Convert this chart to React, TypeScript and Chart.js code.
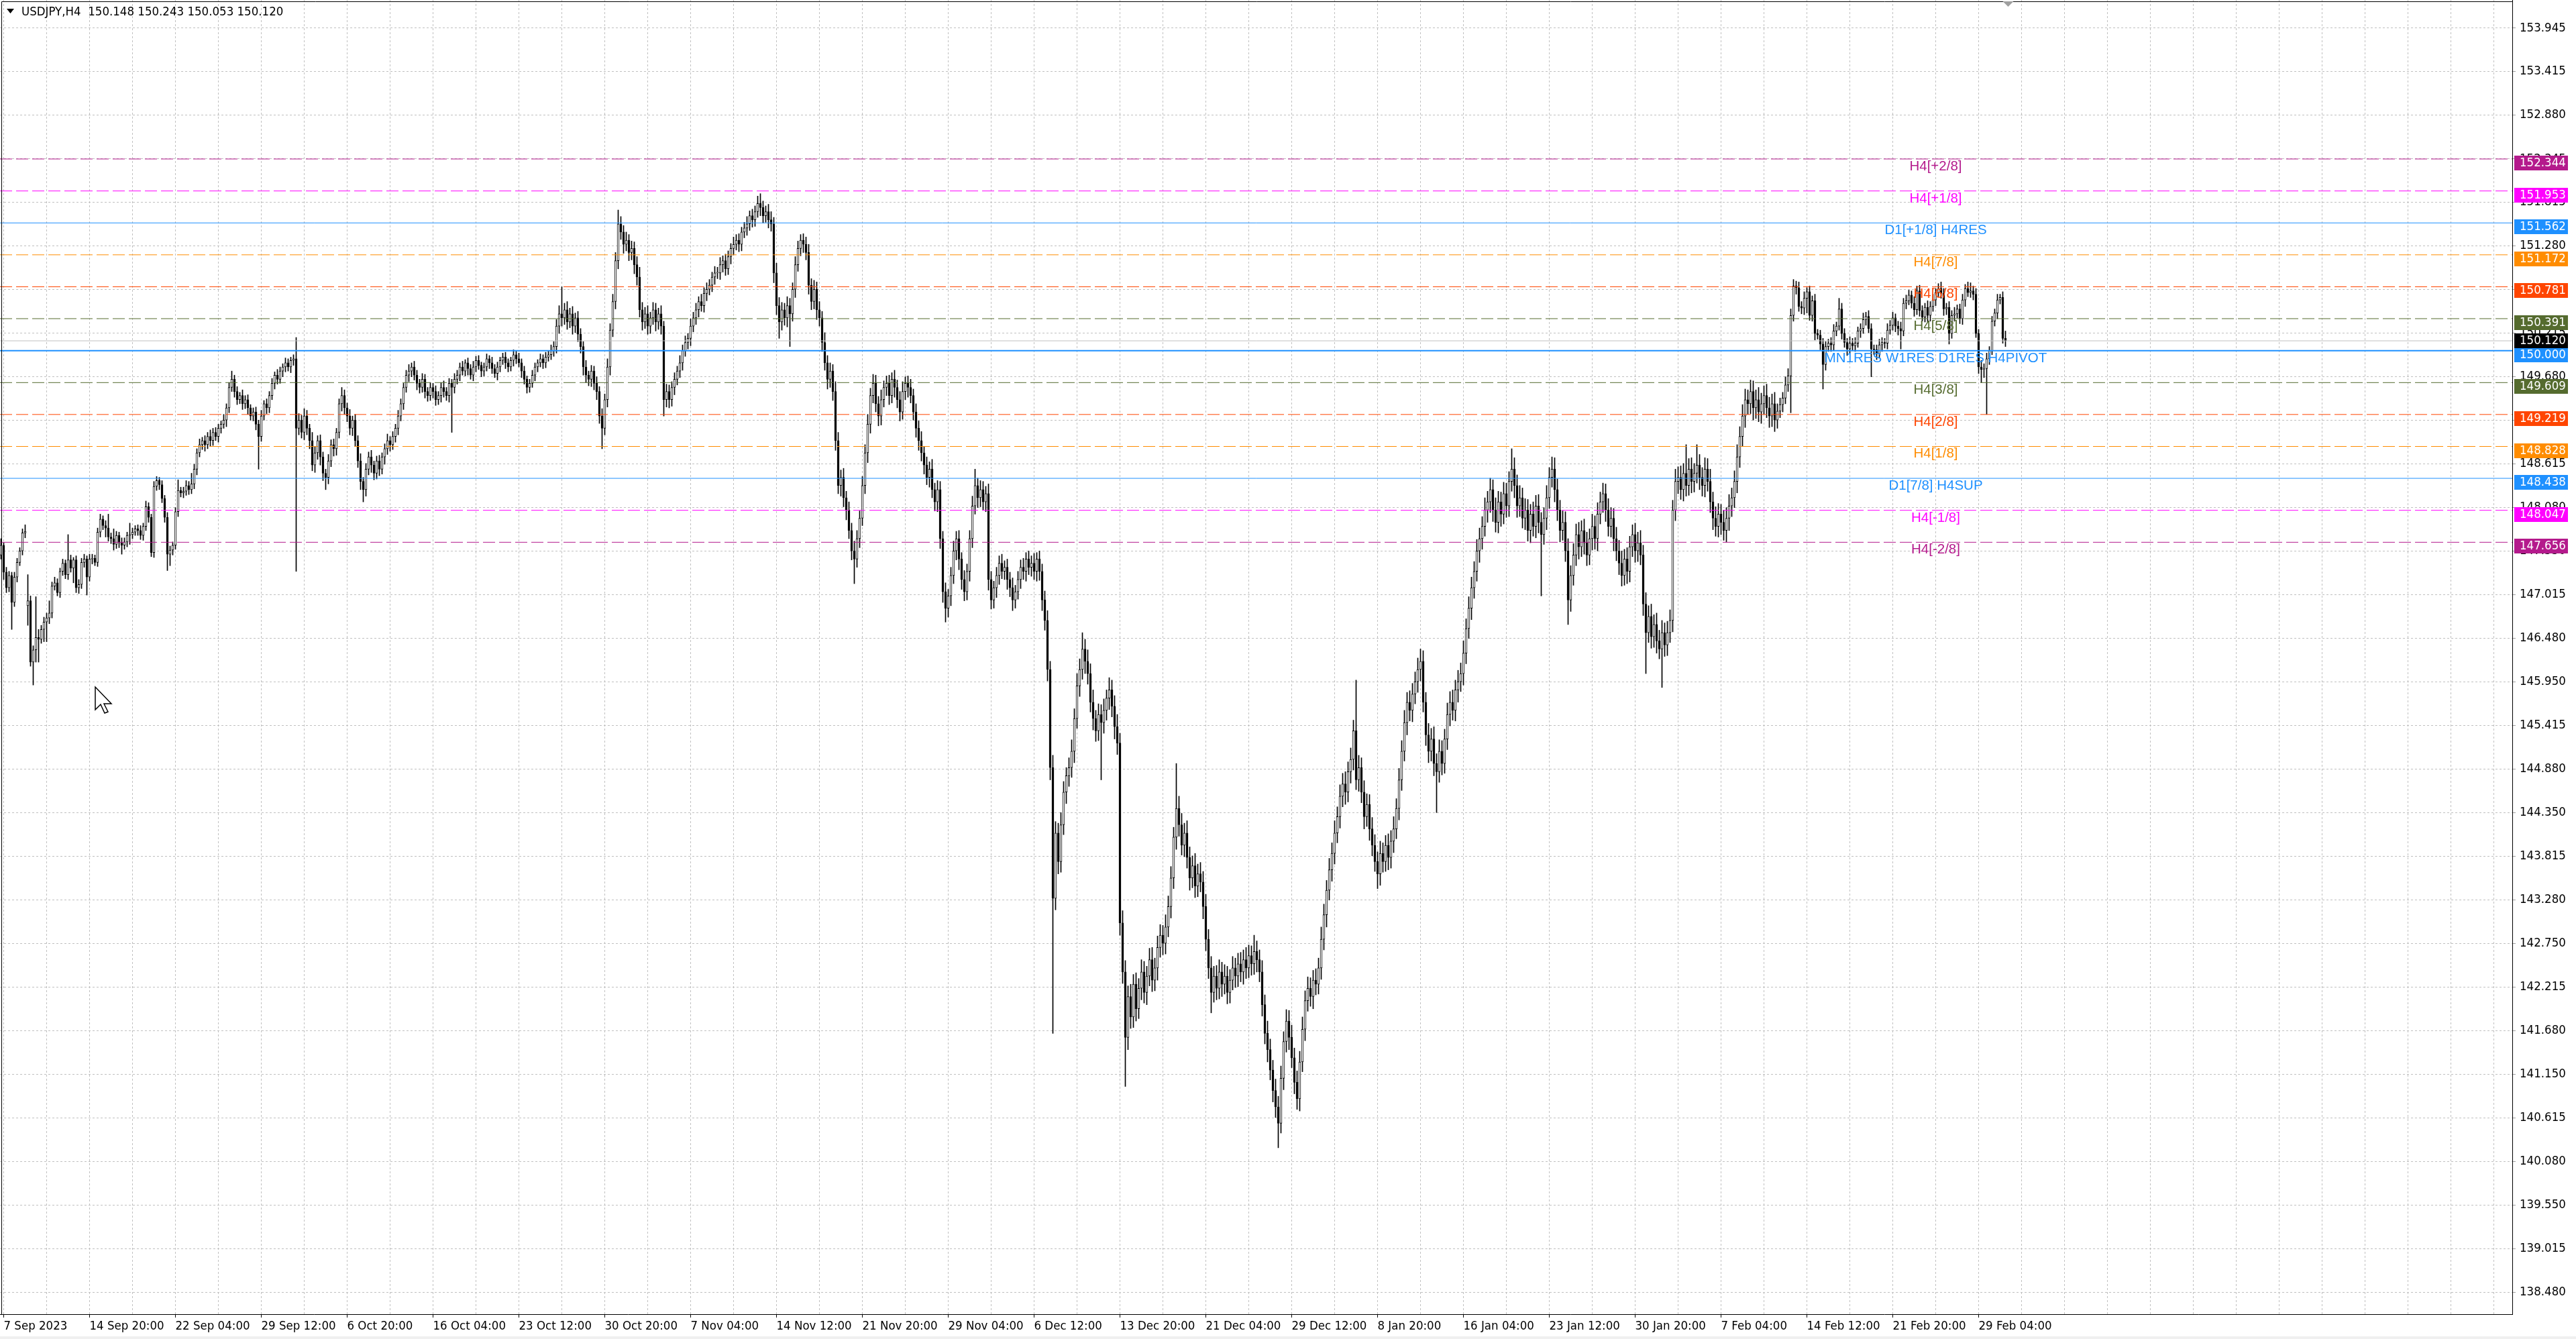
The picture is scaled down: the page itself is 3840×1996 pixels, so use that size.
import { useEffect, useRef } from 'react';
import { Chart, registerables } from 'chart.js';

Chart.register(...registerables);

const CANVAS_W = 3840;
const CANVAS_H = 1996;

const symbolTitle = 'USDJPY,H4  150.148 150.243 150.053 150.120';

// H4 closes, one per bar (7 Sep 2023 08:00 ... 1 Mar 2024 12:00)
const closes = [
  147.62, 147.29, 147.10, 147.25, 146.92, 147.23, 147.41, 147.55, 147.77, 147.79,
  146.94, 146.19, 146.34, 146.49, 146.47, 146.59, 146.68, 146.73, 146.79, 147.12,
  147.16, 147.04, 147.30, 147.40, 147.26, 147.44, 147.34, 147.44, 147.10, 147.14,
  147.41, 147.45, 147.23, 147.45, 147.46, 147.41, 147.78, 147.94, 147.86, 147.83,
  147.72, 147.70, 147.63, 147.74, 147.65, 147.62, 147.66, 147.74, 147.75, 147.78,
  147.82, 147.80, 147.74, 147.85, 148.09, 147.96, 147.53, 148.34, 148.41, 148.36,
  148.19, 147.96, 147.51, 147.56, 147.62, 148.03, 148.29, 148.26, 148.28, 148.35,
  148.30, 148.37, 148.55, 148.75, 148.85, 148.90, 148.85, 148.95, 148.90, 149.00,
  148.95, 149.05, 149.10, 149.15, 149.30, 149.55, 149.65, 149.50, 149.40, 149.45,
  149.35, 149.40, 149.30, 149.20, 149.25, 149.10, 148.95, 149.20, 149.35, 149.30,
  149.45, 149.60, 149.70, 149.65, 149.75, 149.80, 149.85, 149.80, 149.88, 149.90,
  149.05, 149.15, 149.00, 149.20, 149.05, 148.90, 148.60, 148.75, 148.90, 148.70,
  148.50, 148.45, 148.65, 148.85, 148.80, 149.00, 149.35, 149.45, 149.30, 149.20,
  149.05, 149.15, 148.90, 148.65, 148.40, 148.30, 148.55, 148.70, 148.60, 148.50,
  148.65, 148.55, 148.70, 148.80, 148.90, 148.85, 148.95, 149.05, 149.20, 149.35,
  149.55, 149.70, 149.75, 149.80, 149.70, 149.60, 149.55, 149.65, 149.50, 149.45,
  149.55, 149.50, 149.40, 149.45, 149.55, 149.50, 149.45, 149.60, 149.55, 149.65,
  149.70, 149.80, 149.75, 149.85, 149.78, 149.70, 149.80, 149.88, 149.82, 149.75,
  149.80, 149.90, 149.85, 149.78, 149.72, 149.80, 149.88, 149.92, 149.85, 149.80,
  149.88, 149.95, 149.90, 149.85, 149.75, 149.65, 149.55, 149.60, 149.70, 149.80,
  149.85, 149.90, 149.85, 149.92, 149.95, 150.00, 150.05, 150.30, 150.45, 150.40,
  150.50, 150.35, 150.45, 150.30, 150.40, 150.20, 150.05, 149.80, 149.70, 149.65,
  149.75, 149.60, 149.50, 149.20, 149.05, 149.40, 149.80, 150.25, 150.60, 151.10,
  151.55, 151.45, 151.30, 151.35, 151.20, 151.25, 151.05, 150.90, 150.50, 150.35,
  150.45, 150.30, 150.40, 150.50, 150.35, 150.45, 150.30, 149.40, 149.50, 149.40,
  149.55, 149.65, 149.75, 149.85, 150.00, 150.10, 150.15, 150.30, 150.40, 150.50,
  150.60, 150.55, 150.70, 150.75, 150.80, 150.90, 150.95, 150.95, 151.05, 151.10,
  151.00, 151.15, 151.25, 151.30, 151.35, 151.30, 151.45, 151.50, 151.55, 151.65,
  151.60, 151.70, 151.80, 151.75, 151.65, 151.70, 151.60, 151.55, 150.95, 150.55,
  150.35, 150.50, 150.40, 150.55, 150.45, 150.75, 151.05, 151.25, 151.35, 151.30,
  151.20, 150.80, 150.60, 150.75, 150.50, 150.40, 150.10, 149.85, 149.65, 149.75,
  149.50, 148.90, 148.35, 148.45, 148.20, 148.05, 147.80, 147.55, 147.45, 147.70,
  147.95, 148.35, 148.75, 149.10, 149.45, 149.60, 149.35, 149.20, 149.40, 149.55,
  149.60, 149.45, 149.65, 149.55, 149.40, 149.25, 149.50, 149.60, 149.55, 149.45,
  149.25, 149.05, 148.90, 148.75, 148.60, 148.45, 148.55, 148.30, 148.15, 148.30,
  147.70, 147.05, 146.85, 147.00, 147.25, 147.55, 147.70, 147.45, 147.20, 147.05,
  147.30, 147.70, 148.10, 148.35, 148.20, 148.30, 148.15, 148.25, 147.20, 146.95,
  147.10, 147.25, 147.40, 147.30, 147.35, 147.20, 147.10, 146.95, 147.05, 147.20,
  147.35, 147.30, 147.45, 147.35, 147.40, 147.30, 147.45, 147.30, 146.95, 146.70,
  146.10, 144.90, 143.30, 144.10, 143.75, 144.20, 144.60, 144.80, 144.90, 145.10,
  145.50, 145.90, 146.10, 146.35, 146.20, 146.05, 145.70, 145.50, 145.35, 145.55,
  145.45, 145.60, 145.75, 145.85, 145.65, 145.40, 145.20, 143.00, 142.40, 141.60,
  142.10, 141.85, 142.25, 141.95, 142.20, 142.40, 142.15, 142.35, 142.55, 142.30,
  142.45, 142.70, 142.85, 142.75, 142.95, 143.20, 143.55, 144.05, 144.40, 144.20,
  143.95, 144.10, 143.80, 143.55, 143.70, 143.45, 143.60, 143.50, 143.20, 142.80,
  142.45, 142.15, 142.35, 142.20, 142.40, 142.25, 142.35, 142.15, 142.30, 142.45,
  142.35, 142.50, 142.40, 142.55, 142.45, 142.60, 142.50, 142.65, 142.55, 142.40,
  142.00, 141.65, 141.45, 141.20, 140.95, 140.75, 140.55, 141.10, 141.55, 141.80,
  141.60, 141.35, 141.05, 140.85, 141.30, 141.70, 142.05, 142.20, 142.10, 142.30,
  142.25, 142.45, 142.80, 143.10, 143.40, 143.65, 143.85, 144.10, 144.30, 144.55,
  144.70, 144.60, 144.85, 145.00, 145.35, 144.75, 144.90, 144.60, 144.30, 144.45,
  144.15, 143.95, 143.75, 143.60, 143.85, 143.75, 143.95, 143.80, 144.00, 144.15,
  144.40, 144.75, 145.10, 145.45, 145.70, 145.60, 145.80, 145.95, 146.10, 146.20,
  145.70, 145.30, 145.10, 145.25, 144.95, 144.85, 145.10, 144.95, 145.25, 145.55,
  145.70, 145.60, 145.85, 145.95, 146.05, 146.30, 146.60, 146.85, 147.10, 147.30,
  147.55, 147.70, 147.85, 148.05, 148.15, 148.30, 148.05, 147.90, 148.15, 148.00,
  148.25, 148.10, 148.40, 148.55, 148.35, 148.10, 148.20, 147.95, 148.05, 147.80,
  148.00, 147.85, 148.10, 147.90, 147.75, 147.95, 148.20, 148.45, 148.55, 148.30,
  148.05, 147.80, 147.90, 147.55, 146.95, 147.25, 147.50, 147.75, 147.60, 147.80,
  147.65, 147.50, 147.70, 147.85, 147.70, 148.00, 148.15, 148.25, 148.05, 147.85,
  147.95, 147.70, 147.55, 147.40, 147.25, 147.45, 147.30, 147.60, 147.75, 147.55,
  147.65, 147.50, 146.90, 146.55, 146.75, 146.50, 146.65, 146.45, 146.35, 146.55,
  146.40, 146.55, 146.70, 148.05, 148.40, 148.45, 148.30, 148.50, 148.35, 148.55,
  148.40, 148.50, 148.60, 148.45, 148.35, 148.55, 148.40, 148.15, 147.95, 147.85,
  148.00, 147.90, 147.80, 147.95, 148.10, 148.20, 148.40, 148.70, 148.95, 149.20,
  149.40, 149.35, 149.50, 149.30, 149.40, 149.25, 149.35, 149.45, 149.30, 149.20,
  149.35, 149.15, 149.26, 149.34, 149.42, 149.58, 149.69, 150.43, 150.79, 150.77,
  150.54, 150.52, 150.64, 150.72, 150.43, 150.61, 150.21, 150.19, 150.08, 149.83,
  150.05, 150.09, 150.07, 150.24, 150.30, 150.51, 150.21, 150.10, 150.02, 150.09,
  150.06, 150.09, 150.24, 150.27, 150.38, 150.42, 150.27, 150.02, 150.01, 149.96,
  150.07, 150.10, 150.09, 150.25, 150.31, 150.40, 150.30, 150.27, 150.24, 150.58,
  150.61, 150.68, 150.58, 150.50, 150.73, 150.49, 150.41, 150.53, 150.43, 150.54,
  150.62, 150.71, 150.76, 150.70, 150.51, 150.53, 150.21, 150.43, 150.45, 150.51,
  150.39, 150.62, 150.76, 150.71, 150.73, 150.69, 150.21, 149.80, 149.77, 149.78,
  149.90, 150.00, 150.36, 150.46, 150.62, 150.65, 150.15, 150.12,
];

// upper wick above the body, in pips (0.01)
const upperWicks = [
  8, 3, 6, 5, 4, 6, 5, 4, 5, 8,
  32, 6, 5, 50, 10, 5, 6, 6, 15, 5,
  7, 5, 4, 5, 4, 31, 6, 3, 5, 6,
  5, 6, 4, 6, 5, 4, 5, 6, 4, 6,
  17, 5, 12, 5, 4, 6, 5, 4, 14, 5,
  4, 5, 6, 4, 7, 5, 4, 6, 5, 4,
  5, 4, 6, 5, 4, 5, 13, 4, 5, 6,
  5, 13, 6, 5, 7, 4, 6, 5, 8, 5,
  6, 5, 4, 7, 5, 6, 10, 5, 6, 4,
  7, 5, 6, 4, 5, 6, 5, 7, 4, 6,
  5, 6, 4, 7, 5, 4, 6, 5, 4, 5,
  26, 8, 6, 9, 7, 5, 10, 8, 6, 7,
  6, 5, 8, 6, 7, 5, 6, 10, 7, 6,
  8, 5, 7, 6, 9, 5, 7, 6, 8, 5,
  6, 7, 5, 6, 8, 5, 6, 5, 7, 6,
  5, 6, 8, 5, 7, 6, 5, 7, 6, 5,
  6, 5, 7, 5, 6, 8, 5, 6, 5, 7,
  6, 5, 7, 4, 6, 5, 7, 5, 6, 4,
  5, 6, 4, 7, 5, 6, 4, 5, 6, 5,
  4, 6, 5, 7, 5, 6, 4, 5, 6, 5,
  4, 6, 5, 6, 5, 7, 6, 8, 10, 33,
  8, 10, 7, 9, 6, 8, 7, 6, 8, 5,
  7, 6, 8, 6, 9, 7, 10, 8, 9, 10,
  17, 9, 8, 10, 7, 9, 8, 10, 12, 9,
  8, 10, 7, 9, 8, 7, 10, 6, 9, 8,
  7, 8, 6, 9, 7, 8, 6, 9, 7, 8,
  6, 9, 7, 8, 7, 6, 8, 7, 9, 6,
  8, 7, 6, 9, 7, 8, 6, 7, 9, 6,
  8, 7, 9, 12, 8, 7, 9, 10, 8, 12,
  10, 9, 8, 11, 9, 8, 10, 9, 7, 8,
  9, 10, 8, 11, 9, 10, 8, 12, 9, 10,
  8, 12, 10, 9, 11, 8, 10, 9, 12, 10,
  9, 11, 10, 12, 9, 11, 10, 9, 12, 8,
  9, 10, 8, 11, 9, 10, 12, 8, 9, 10,
  8, 10, 9, 11, 8, 10, 9, 12, 8, 11,
  10, 9, 11, 8, 10, 12, 9, 10, 8, 11,
  9, 10, 12, 20, 9, 11, 10, 9, 12, 10,
  8, 10, 9, 11, 8, 10, 9, 12, 8, 10,
  9, 11, 8, 10, 9, 12, 8, 10, 9, 11,
  12, 10, 15, 14, 12, 15, 13, 10, 12, 14,
  12, 15, 13, 20, 12, 14, 12, 15, 10, 13,
  12, 14, 10, 15, 12, 13, 15, 12, 15, 14,
  13, 15, 12, 14, 12, 15, 13, 12, 14, 15,
  12, 14, 13, 12, 15, 13, 14, 12, 55, 15,
  14, 12, 15, 13, 12, 15, 12, 14, 13, 15,
  12, 14, 12, 13, 15, 12, 14, 12, 13, 14,
  12, 13, 14, 12, 15, 13, 12, 20, 13, 12,
  14, 12, 15, 13, 12, 14, 13, 15, 12, 14,
  13, 15, 12, 14, 13, 15, 12, 14, 13, 12,
  14, 12, 15, 13, 12, 14, 13, 15, 12, 14,
  13, 15, 12, 14, 13, 62, 15, 12, 14, 13,
  12, 14, 13, 12, 15, 13, 12, 14, 13, 15,
  12, 14, 13, 15, 12, 14, 13, 12, 14, 15,
  13, 12, 14, 13, 15, 12, 14, 13, 12, 14,
  13, 15, 12, 14, 13, 15, 12, 14, 13, 12,
  14, 13, 12, 15, 13, 14, 12, 15, 13, 12,
  14, 13, 12, 25, 14, 13, 15, 12, 14, 13,
  12, 15, 13, 14, 12, 13, 15, 12, 15, 14,
  13, 12, 14, 13, 15, 12, 14, 13, 15, 12,
  14, 13, 12, 15, 13, 14, 12, 13, 12, 14,
  13, 12, 14, 13, 15, 12, 14, 13, 12, 14,
  13, 15, 12, 14, 13, 15, 12, 14, 13, 15,
  12, 14, 13, 12, 15, 13, 14, 12, 35, 13,
  14, 12, 25, 13, 12, 14, 13, 15, 12, 14,
  13, 12, 15, 13, 14, 12, 13, 15, 12, 14,
  13, 12, 14, 13, 12, 15, 13, 12, 14, 13,
  12, 14, 9, 8, 7, 10, 9, 8, 8, 6,
  7, 6, 8, 5, 7, 6, 8, 5, 6, 7,
  6, 5, 7, 8, 5, 13, 7, 6, 5, 8,
  6, 7, 5, 6, 8, 5, 7, 6, 5, 6,
  7, 6, 5, 8, 6, 7, 5, 6, 8, 6,
  7, 6, 5, 8, 6, 7, 6, 5, 8, 6,
  7, 5, 6, 8, 6, 5, 7, 6, 8, 5,
  6, 7, 5, 8, 10, 6, 7, 5, 8, 6,
  7, 5, 6, 5, 7, 4, 7, 9,
];

// lower wick below the body, in pips (0.01)
const lowerWicks = [
  5, 9, 6, 5, 33, 5, 6, 4, 5, 6,
  24, 5, 28, 15, 28, 5, 15, 24, 7, 6,
  5, 4, 6, 5, 5, 6, 5, 18, 6, 7,
  5, 6, 22, 5, 6, 4, 5, 6, 5, 11,
  5, 6, 7, 5, 6, 11, 5, 6, 11, 5,
  4, 6, 5, 6, 5, 6, 5, 6, 5, 6,
  5, 6, 20, 14, 6, 5, 6, 5, 6, 5,
  6, 5, 6, 7, 5, 6, 8, 5, 7, 6,
  5, 7, 6, 5, 8, 6, 5, 7, 6, 5,
  7, 6, 8, 5, 6, 7, 40, 6, 5, 7,
  6, 5, 7, 6, 5, 7, 6, 5, 7, 6,
  175, 8, 7, 9, 8, 10, 7, 9, 8, 10,
  9, 15, 8, 7, 9, 8, 7, 9, 8, 7,
  8, 9, 7, 8, 10, 15, 8, 7, 9, 8,
  7, 8, 6, 9, 7, 8, 6, 7, 8, 6,
  7, 6, 8, 7, 6, 8, 7, 6, 8, 7,
  6, 8, 7, 6, 8, 7, 6, 8, 55, 7,
  6, 7, 5, 6, 8, 5, 7, 6, 5, 7,
  6, 5, 7, 6, 5, 8, 6, 5, 7, 6,
  5, 7, 6, 5, 8, 6, 7, 6, 5, 7,
  6, 5, 7, 6, 5, 6, 7, 8, 9, 10,
  8, 9, 7, 10, 8, 9, 8, 10, 9, 8,
  9, 8, 10, 9, 25, 8, 9, 10, 8, 9,
  10, 9, 11, 8, 10, 9, 11, 10, 9, 10,
  8, 10, 9, 8, 11, 9, 10, 20, 9, 10,
  8, 9, 7, 8, 9, 7, 8, 9, 7, 8,
  9, 7, 8, 9, 7, 8, 9, 7, 8, 9,
  8, 7, 9, 8, 7, 9, 8, 7, 9, 8,
  9, 8, 7, 10, 9, 8, 10, 9, 12, 11,
  20, 10, 9, 11, 40, 9, 10, 8, 9, 10,
  9, 11, 10, 9, 12, 10, 11, 9, 12, 10,
  11, 12, 10, 13, 11, 12, 10, 11, 30, 10,
  11, 9, 10, 12, 11, 9, 10, 12, 11, 9,
  10, 11, 9, 12, 10, 11, 9, 10, 12, 9,
  10, 11, 12, 10, 11, 9, 12, 10, 11, 12,
  12, 13, 17, 11, 12, 10, 11, 13, 12, 11,
  10, 12, 11, 10, 12, 11, 10, 12, 13, 11,
  10, 12, 11, 9, 10, 12, 11, 13, 10, 9,
  11, 10, 12, 9, 11, 10, 12, 11, 13, 12,
  14, 15, 165, 14, 15, 13, 12, 14, 13, 12,
  14, 12, 13, 12, 15, 13, 12, 14, 13, 12,
  70, 13, 12, 14, 13, 15, 14, 15, 14, 60,
  15, 14, 13, 15, 12, 14, 13, 15, 12, 14,
  13, 15, 12, 14, 13, 12, 14, 13, 15, 14,
  12, 14, 13, 15, 12, 14, 13, 12, 15, 14,
  13, 25, 12, 14, 13, 15, 12, 14, 13, 12,
  14, 13, 12, 15, 13, 12, 14, 13, 15, 12,
  14, 13, 15, 12, 14, 13, 30, 12, 14, 13,
  15, 12, 14, 13, 15, 12, 14, 13, 12, 15,
  13, 12, 14, 13, 15, 12, 14, 13, 12, 14,
  13, 15, 12, 14, 13, 12, 14, 13, 15, 12,
  14, 13, 12, 18, 14, 13, 12, 15, 13, 14,
  12, 14, 13, 12, 15, 13, 14, 12, 13, 14,
  12, 13, 14, 12, 15, 50, 13, 14, 12, 13,
  14, 12, 13, 15, 12, 14, 13, 12, 14, 13,
  12, 14, 13, 12, 15, 13, 14, 12, 13, 15,
  12, 14, 13, 12, 15, 14, 13, 12, 14, 13,
  15, 12, 14, 13, 75, 12, 14, 13, 12, 15,
  13, 14, 12, 13, 30, 14, 12, 13, 15, 12,
  14, 13, 12, 14, 13, 15, 12, 13, 14, 12,
  13, 15, 12, 14, 13, 12, 15, 13, 12, 14,
  13, 12, 14, 50, 12, 14, 13, 15, 12, 47,
  14, 13, 12, 14, 13, 15, 12, 14, 13, 12,
  14, 13, 12, 15, 13, 14, 12, 13, 14, 12,
  13, 15, 12, 14, 15, 13, 12, 14, 13, 12,
  14, 13, 12, 15, 13, 12, 14, 13, 12, 14,
  13, 14, 10, 8, 9, 7, 8, 45, 7, 8,
  6, 7, 8, 18, 6, 7, 8, 5, 7, 30,
  7, 6, 8, 7, 6, 5, 7, 6, 8, 5,
  6, 7, 5, 8, 6, 7, 5, 34, 6, 7,
  5, 8, 6, 7, 5, 6, 7, 8, 22, 6,
  7, 5, 6, 8, 6, 7, 5, 6, 8, 7,
  6, 7, 5, 6, 8, 7, 13, 6, 7, 5,
  6, 7, 8, 5, 6, 7, 5, 8, 16, 10,
  56, 7, 5, 6, 7, 5, 6, 7,
];

// bars whose open is not the previous close (first bar, weekend gap)
const gapOpens: [number, number][] = [
  [0, 147.5],
  [10, 146.88],
];

// x-axis labels, one every 32 bars starting at bar 1
const xTickLabels = [
  '7 Sep 2023', '14 Sep 20:00', '22 Sep 04:00', '29 Sep 12:00', '6 Oct 20:00',
  '16 Oct 04:00', '23 Oct 12:00', '30 Oct 20:00', '7 Nov 04:00', '14 Nov 12:00',
  '21 Nov 20:00', '29 Nov 04:00', '6 Dec 12:00', '13 Dec 20:00', '21 Dec 04:00',
  '29 Dec 12:00', '8 Jan 20:00', '16 Jan 04:00', '23 Jan 12:00', '30 Jan 20:00',
  '7 Feb 04:00', '14 Feb 12:00', '21 Feb 20:00', '29 Feb 04:00',
];

const yTickValues = [
  153.945, 153.415, 152.88, 152.345, 151.815, 151.28, 150.745, 150.215, 149.68, 149.15,
  148.615, 148.08, 147.55, 147.015, 146.48, 145.95, 145.415, 144.88, 144.35, 143.815,
  143.28, 142.75, 142.215, 141.68, 141.15, 140.615, 140.08, 139.55, 139.015, 138.48,
];

const levelNames = [
  'H4[+2/8]', 'H4[+1/8]', 'D1[+1/8] H4RES', 'H4[7/8]', 'H4[6/8]', 'H4[5/8]',
  'MN1RES W1RES D1RES H4PIVOT', 'H4[3/8]', 'H4[2/8]', 'H4[1/8]', 'D1[7/8] H4SUP',
  'H4[-1/8]', 'H4[-2/8]',
];
const levelValues = [
  152.344, 151.953, 151.562, 151.172, 150.781, 150.391,
  150.0, 149.609, 149.219, 148.828, 148.438,
  148.047, 147.656,
];
const levelColors = [
  '#B41A8C', '#FF00FF', '#1E90FF', '#FF8C00', '#FF4500', '#556B2F',
  '#1E90FF', '#556B2F', '#FF4500', '#FF8C00', '#1E90FF',
  '#FF00FF', '#B41A8C',
];
const levelDashed = [
  true, true, false, true, true, true,
  false, true, true, true, false,
  true, true,
];
const levelWidths = [1, 1, 1, 1, 1, 1, 2, 1, 1, 1, 1, 1, 1];
const bidPrice = 150.12;
const labelAnchorBar = 721;

const AXIS_FONT = "'DejaVu Sans Condensed', 'DejaVu Sans', sans-serif";
const TEXT_FONT = "'Liberation Sans', Arial, sans-serif";
const AXIS_SIZE = 18.5;

const X_MIN = -0.375;
const X_MAX = 935.875;
const Y_MIN = 138.2146;
const Y_MAX = 154.2886;

export default function App() {
  const ref = useRef<HTMLCanvasElement>(null);

  useEffect(() => {
    const canvas = ref.current;
    if (!canvas) return;

    const opens = closes.map((c, i) => {
      const g = gapOpens.find((e) => e[0] === i);
      if (g) return g[1];
      return i > 0 ? closes[i - 1] : c;
    });
    const highs = closes.map((c, i) => Math.max(opens[i], c) + (upperWicks[i] ?? 5) / 100);
    const lows = closes.map((c, i) => Math.min(opens[i], c) - (lowerWicks[i] ?? 5) / 100);

    const bodyData = closes.map((c, i) => ({ x: i, y: [opens[i], c] }));
    const wickData = closes.map((_c, i) => ({ x: i, y: [lows[i], highs[i]] }));

    const gridBars: number[] = [];
    for (let v = 1; v <= X_MAX; v += 16) gridBars.push(v);

    const isLabelBar = (v: number) => {
      const k = (v - 1) / 32;
      return Number.isInteger(k) && k >= 0 && k < xTickLabels.length;
    };

    const levelSets: any[] = levelValues.map((v, i) => ({
      type: 'line',
      data: [{ x: X_MIN, y: v }, { x: X_MAX, y: v }],
      borderColor: levelColors[i],
      borderWidth: levelWidths[i],
      borderDash: levelDashed[i] ? [18, 6] : [],
      pointRadius: 0,
      fill: false,
      order: 0,
    }));

    const bidSet: any = {
      type: 'line',
      data: [{ x: X_MIN, y: bidPrice }, { x: X_MAX, y: bidPrice }],
      borderColor: '#C0C0C0',
      borderWidth: 1,
      pointRadius: 0,
      fill: false,
      order: 0,
    };

    const decor = {
      id: 'decor',
      beforeDraw(chart: any) {
        const ctx = chart.ctx;
        ctx.save();
        ctx.fillStyle = '#ffffff';
        ctx.fillRect(0, 0, chart.width, chart.height);
        ctx.restore();
      },
      afterDatasetsDraw(chart: any) {
        const { ctx } = chart;
        const xs = chart.scales.x;
        const ys = chart.scales.y;
        ctx.save();
        ctx.font = `20.5px ${TEXT_FONT}`;
        ctx.textAlign = 'center';
        ctx.textBaseline = 'top';
        const tx = xs.getPixelForValue(labelAnchorBar);
        levelNames.forEach((n, i) => {
          ctx.fillStyle = levelColors[i];
          ctx.fillText(n, tx, ys.getPixelForValue(levelValues[i]) + 1);
        });
        ctx.restore();
      },
      afterDraw(chart: any) {
        const { ctx, chartArea } = chart;
        const xs = chart.scales.x;
        const ys = chart.scales.y;
        ctx.save();
        // frame
        ctx.strokeStyle = '#000';
        ctx.lineWidth = 1;
        ctx.beginPath();
        ctx.moveTo(2.5, chartArea.bottom);
        ctx.lineTo(2.5, 2.5);
        ctx.lineTo(chartArea.right, 2.5);
        ctx.stroke();

        // price boxes on right axis (object labels sit a little below their line)
        ctx.font = `${AXIS_SIZE}px ${AXIS_FONT}`;
        ctx.textAlign = 'left';
        ctx.textBaseline = 'middle';
        const boxX = chartArea.right + 3;
        const drawBox = (v: number, col: string, top: number) => {
          ctx.fillStyle = col;
          ctx.fillRect(boxX, top, 80, 22);
          ctx.fillStyle = '#ffffff';
          ctx.fillText(v.toFixed(3), chartArea.right + 11, top + 11.5);
        };
        levelValues.forEach((v, i) => {
          const py = ys.getPixelForValue(v);
          drawBox(v, levelColors[i], Math.round(py - 5));
        });
        drawBox(bidPrice, '#000000', Math.round(ys.getPixelForValue(bidPrice) - 11));

        // title
        ctx.fillStyle = '#000';
        ctx.beginPath();
        ctx.moveTo(10, 13);
        ctx.lineTo(21, 13);
        ctx.lineTo(15.5, 20);
        ctx.closePath();
        ctx.fill();
        ctx.font = `${AXIS_SIZE}px ${AXIS_FONT}`;
        ctx.textBaseline = 'middle';
        ctx.fillText(symbolTitle, 32, 18);

        // chart shift marker
        const mx = xs.getPixelForValue(closes.length);
        ctx.fillStyle = '#A0A0A0';
        ctx.beginPath();
        ctx.moveTo(mx - 8, 2);
        ctx.lineTo(mx + 8, 2);
        ctx.lineTo(mx, 10);
        ctx.closePath();
        ctx.fill();

        // mouse cursor
        const cx = 142, cy = 1024, s = 2;
        const pts = [[0, 0], [0, 17], [4, 13], [7, 19.5], [9.5, 18.5], [6.5, 12.5], [12, 12.5]];
        ctx.beginPath();
        pts.forEach(([px, py], i) => {
          if (i === 0) ctx.moveTo(cx + px * s, cy + py * s);
          else ctx.lineTo(cx + px * s, cy + py * s);
        });
        ctx.closePath();
        ctx.fillStyle = '#fff';
        ctx.fill();
        ctx.strokeStyle = '#000';
        ctx.lineWidth = 1.5;
        ctx.stroke();

        // window edge
        ctx.fillStyle = '#F0F0F0';
        ctx.fillRect(0, chart.height - 4, chart.width, 4);
        ctx.restore();
      },
    };

    const chart = new Chart(canvas, {
      type: 'bar',
      data: {
        datasets: [
          ...levelSets,
          bidSet,
          {
            type: 'bar',
            data: bodyData as any,
            barThickness: 3,
            backgroundColor: (c: any) => {
              const i = c.dataIndex;
              return closes[i] >= opens[i] ? '#ffffff' : '#000000';
            },
            borderColor: '#000000',
            borderWidth: 1,
            borderSkipped: false,
            minBarLength: 1,
            grouped: false,
            order: 1,
          } as any,
          {
            type: 'bar',
            data: wickData as any,
            barThickness: 1,
            backgroundColor: '#000000',
            borderWidth: 0,
            grouped: false,
            order: 2,
          } as any,
        ],
      },
      options: {
        responsive: false,
        animation: false,
        devicePixelRatio: 1,
        events: [],
        layout: { padding: 0, autoPadding: false },
        plugins: {
          legend: { display: false },
          tooltip: { enabled: false },
        },
        scales: {
          x: {
            type: 'linear',
            min: X_MIN,
            max: X_MAX,
            offset: false,
            afterBuildTicks: (s: any) => {
              s.ticks = gridBars.map((v) => ({ value: v }));
            },
            afterFit: (s: any) => {
              s.height = 37;
              s.paddingLeft = 0;
              s.paddingRight = 0;
              s.paddingTop = 0;
              s.paddingBottom = 0;
            },
            grid: {
              offset: false,
              color: '#C0C0C0',
              lineWidth: 1,
              tickLength: 5,
              tickWidth: 1,
              tickColor: (c: any) => (c.tick && isLabelBar(c.tick.value) ? '#000000' : 'rgba(0,0,0,0)'),
            },
            border: { display: true, color: '#000000', width: 1, dash: [3, 3] },
            ticks: {
              autoSkip: false,
              maxRotation: 0,
              minRotation: 0,
              align: 'start',
              padding: 2,
              color: '#000000',
              font: { family: AXIS_FONT, size: AXIS_SIZE },
              callback: (v: any) => {
                const n = Number(v);
                return isLabelBar(n) ? xTickLabels[(n - 1) / 32] : '';
              },
            },
          } as any,
          y: {
            type: 'linear',
            position: 'right',
            min: Y_MIN,
            max: Y_MAX,
            offset: false,
            afterBuildTicks: (s: any) => {
              s.ticks = yTickValues.map((v) => ({ value: v }));
            },
            afterFit: (s: any) => {
              s.width = 95;
              s.paddingLeft = 0;
              s.paddingRight = 0;
              s.paddingTop = 0;
              s.paddingBottom = 0;
            },
            grid: {
              color: '#C0C0C0',
              lineWidth: 1,
              tickLength: 5,
              tickColor: '#A0A0A0',
            },
            border: { display: true, color: '#000000', width: 1, dash: [3, 3] },
            ticks: {
              padding: 6,
              color: '#000000',
              font: { family: AXIS_FONT, size: AXIS_SIZE },
              callback: (v: any) => Number(v).toFixed(3),
            },
          } as any,
        },
      },
      plugins: [decor],
    });

    return () => {
      chart.destroy();
    };
  }, []);

  return (
    <div style={{ position: 'absolute', left: 0, top: 0, width: CANVAS_W, height: CANVAS_H, background: '#fff' }}>
      <canvas ref={ref} width={CANVAS_W} height={CANVAS_H} style={{ display: 'block', width: CANVAS_W, height: CANVAS_H }} />
    </div>
  );
}
